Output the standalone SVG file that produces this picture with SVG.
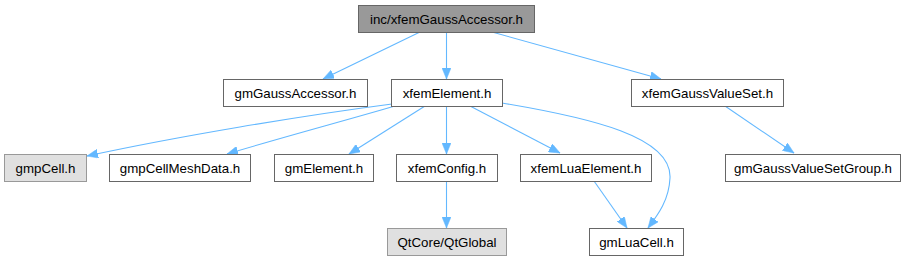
<svg xmlns="http://www.w3.org/2000/svg" width="907" height="261" viewBox="0 0 907 261">
<style>
.n rect{fill:#ffffff;stroke:#666666;stroke-width:1}
.n.g rect{fill:#e0e0e0;stroke:#999999}
.n.cur rect{fill:#999999;stroke:#666666}
.n text{font-family:"Liberation Sans",Arial,sans-serif;font-size:13.3px;fill:#000000;text-anchor:middle}
.e path{fill:none;stroke:#63b8ff;stroke-width:1.1;marker-end:url(#ah)}
</style>
<defs>
<marker id="ah" markerUnits="userSpaceOnUse" markerWidth="12" markerHeight="9" refX="11" refY="4.5" orient="auto">
<path d="M0,0 L11,4.5 L0,9 z" fill="#63b8ff" stroke="#63b8ff" stroke-width="0.5"/>
</marker>
</defs>
<g id="edges" class="e">
<path d="M420,32 L323,79"/>
<path d="M446.5,32 L446.5,79"/>
<path d="M492,32 L661,79"/>
<path d="M392,104 C300,116 180,136 87,156"/>
<path d="M395,106 C340,122 280,138 227,154"/>
<path d="M425,106 L349,154"/>
<path d="M446.5,106 L446.5,154"/>
<path d="M470,106 L560,153"/>
<path d="M502,103 C592,118 672,137 670,178 C669,201 657,216 648,228"/>
<path d="M725,106 L794,153"/>
<path d="M446.5,181 L446.5,228"/>
<path d="M594,181 L627,228"/>
</g>
<g id="n1" class="n cur"><rect x="358.5" y="5.5" width="176" height="27"/><text x="446.5" y="23.5">inc/xfemGaussAccessor.h</text></g>
<g id="n2" class="n"><rect x="223.5" y="79.5" width="144" height="27"/><text x="295.5" y="97.5">gmGaussAccessor.h</text></g>
<g id="n3" class="n"><rect x="391.5" y="79.5" width="111" height="27"/><text x="447" y="97.5">xfemElement.h</text></g>
<g id="n4" class="n"><rect x="631.5" y="79.5" width="152" height="27"/><text x="707.5" y="97.5">xfemGaussValueSet.h</text></g>
<g id="n5" class="n g"><rect x="4.5" y="154.5" width="82" height="27"/><text x="45.5" y="172.5">gmpCell.h</text></g>
<g id="n6" class="n"><rect x="109.5" y="154.5" width="141" height="27"/><text x="180" y="172.5">gmpCellMeshData.h</text></g>
<g id="n7" class="n"><rect x="274.5" y="154.5" width="99" height="27"/><text x="324" y="172.5">gmElement.h</text></g>
<g id="n8" class="n"><rect x="396.5" y="154.5" width="101" height="27"/><text x="447" y="172.5">xfemConfig.h</text></g>
<g id="n9" class="n"><rect x="520.5" y="154.5" width="131" height="27"/><text x="586" y="172.5">xfemLuaElement.h</text></g>
<g id="n10" class="n"><rect x="725.5" y="154.5" width="175" height="27"/><text x="813" y="172.5">gmGaussValueSetGroup.h</text></g>
<g id="n11" class="n g"><rect x="387.5" y="228.5" width="119" height="27"/><text x="447" y="246.5">QtCore/QtGlobal</text></g>
<g id="n12" class="n"><rect x="589.5" y="228.5" width="94" height="27"/><text x="636.5" y="246.5">gmLuaCell.h</text></g>
</svg>
